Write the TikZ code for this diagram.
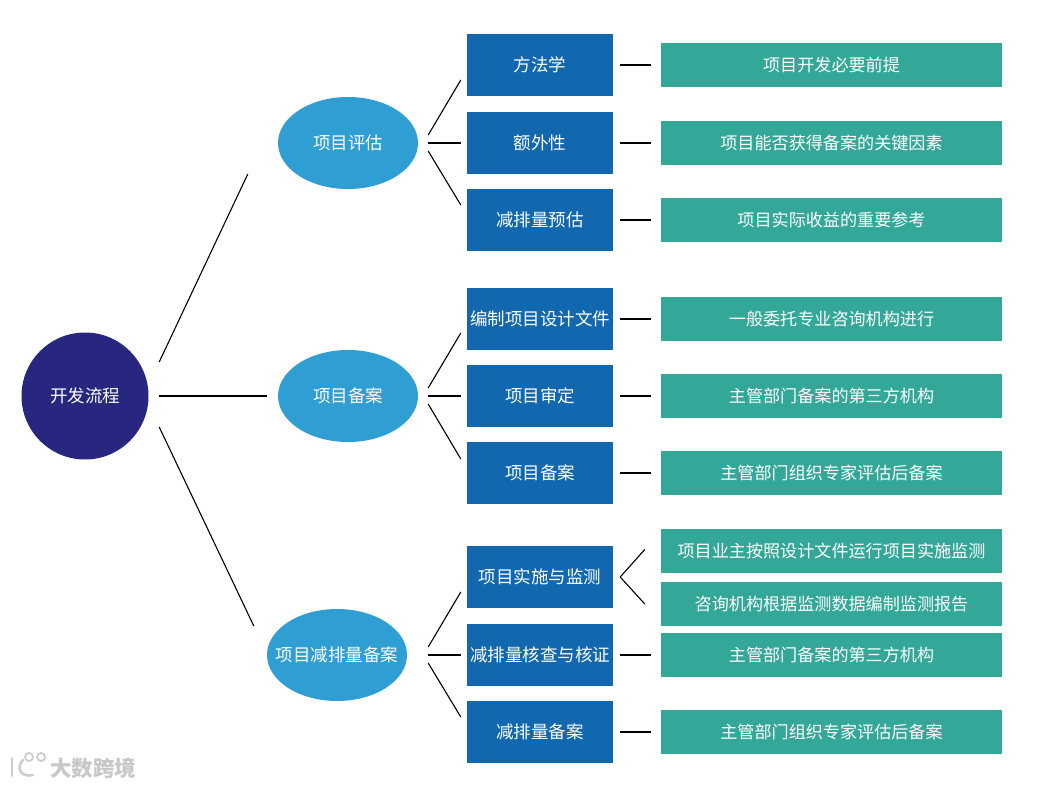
\documentclass[tikz,border=0pt]{standalone}
\usepackage{fontspec}
\setmainfont{Noto Sans CJK SC}
\usepackage{xcolor}
\usetikzlibrary{shapes.geometric, positioning, calc}
\definecolor{rootblue}{HTML}{27277F}
\definecolor{ovalblue}{HTML}{2F9FD3}
\definecolor{stepblue}{HTML}{1268AE}
\definecolor{noteteal}{HTML}{33A898}

\begin{document}
\begin{tikzpicture}[x=1pt, y=-1pt, font=\fontsize{17.5}{21}\selectfont, text=white]
    \tikzset{
        rootnode/.style={circle, fill=rootblue, minimum size=127pt, inner sep=0pt},
        oval/.style={ellipse, fill=ovalblue, minimum width=140pt, minimum height=92pt, inner sep=-15pt},
        stepbox/.style={rectangle, fill=stepblue, minimum width=146pt, minimum height=62pt, inner sep=0pt},
        notebox/.style={rectangle, fill=noteteal, minimum width=341pt, minimum height=44pt, inner sep=0pt, font=\fontsize{17.1}{21}\selectfont},
        link/.style={draw=black, line width=1.1pt}
    }
    \useasboundingbox (0,0) rectangle (1045,787);

    % root and the three stages
    \node[rootnode] (root) at (85,396) {开发流程};
    \node[oval] (assess) at (348,143) {项目评估};
    \node[oval] (record) at (348,396) {项目备案};
    \node[oval] (reduce) at (337,655) {项目减排量备案};

    % steps
    \node[stepbox] (method) at (540,65) {方法学};
    \node[stepbox] (extra) at (540,143) {额外性};
    \node[stepbox] (estimate) at (540,220) {减排量预估};
    \node[stepbox] (design) at (540,319) {编制项目设计文件};
    \node[stepbox] (review) at (540,396) {项目审定};
    \node[stepbox] (filing) at (540,473) {项目备案};
    \node[stepbox] (monitor) at (540,577) {项目实施与监测};
    \node[stepbox] (verify) at (540,655) {减排量核查与核证};
    \node[stepbox] (rfiling) at (540,732) {减排量备案};

    % notes
    \node[notebox] (premise) at (831.5,65) {项目开发必要前提};
    \node[notebox] (key) at (831.5,143) {项目能否获得备案的关键因素};
    \node[notebox] (income) at (831.5,220) {项目实际收益的重要参考};
    \node[notebox] (entrust) at (831.5,319) {一般委托专业咨询机构进行};
    \node[notebox] (third) at (831.5,396) {主管部门备案的第三方机构};
    \node[notebox] (expert) at (831.5,473) {主管部门组织专家评估后备案};
    \node[notebox] (owner) at (831.5,550.5) {项目业主按照设计文件运行项目实施监测};
    \node[notebox] (report) at (831.5,604) {咨询机构根据监测数据编制监测报告};
    \node[notebox] (rthird) at (831.5,655) {主管部门备案的第三方机构};
    \node[notebox] (rexpert) at (831.5,732) {主管部门组织专家评估后备案};

    % root links
    \draw[link] ($(root.east)+(10.5,-34)$) -- ($(assess.west)+(-30,31)$);
    \draw[link] ($(root.east)+(10.5,0)$) -- ($(record.west)+(-11,0)$);
    \draw[link] ($(root.east)+(10.5,31)$) -- ($(reduce.west)+(-13,-29)$);

    % stage links
    \draw[link] ($(assess.east)+(10,-8)$) -- ($(method.west)+(-6,15)$);
    \draw[link] ($(assess.east)+(10,0)$) -- ($(extra.west)+(-6,0)$);
    \draw[link] ($(assess.east)+(10,8)$) -- ($(estimate.west)+(-6,-15)$);
    \draw[link] ($(record.east)+(10,-8)$) -- ($(design.west)+(-6,14)$);
    \draw[link] ($(record.east)+(10,0)$) -- ($(review.west)+(-6,0)$);
    \draw[link] ($(record.east)+(10,8)$) -- ($(filing.west)+(-6,-14)$);
    \draw[link] ($(reduce.east)+(21,-8)$) -- ($(monitor.west)+(-6,15)$);
    \draw[link] ($(reduce.east)+(21,0)$) -- ($(verify.west)+(-6,0)$);
    \draw[link] ($(reduce.east)+(21,8)$) -- ($(rfiling.west)+(-6,-15)$);

    % step links
    \draw[link] ($(method.east)+(7,0)$) -- ($(premise.west)+(-10,0)$);
    \draw[link] ($(extra.east)+(7,0)$) -- ($(key.west)+(-10,0)$);
    \draw[link] ($(estimate.east)+(7,0)$) -- ($(income.west)+(-10,0)$);
    \draw[link] ($(design.east)+(7,0)$) -- ($(entrust.west)+(-10,0)$);
    \draw[link] ($(review.east)+(7,0)$) -- ($(third.west)+(-10,0)$);
    \draw[link] ($(filing.east)+(7,0)$) -- ($(expert.west)+(-10,0)$);
    \draw[link] ($(monitor.east)+(7,0)$) -- ($(owner.west)+(-16,-1)$);
    \draw[link] ($(monitor.east)+(7,0)$) -- ($(report.west)+(-16,0)$);
    \draw[link] ($(verify.east)+(7,0)$) -- ($(rthird.west)+(-10,0)$);
    \draw[link] ($(rfiling.east)+(7,0)$) -- ($(rexpert.west)+(-10,0)$);

    % watermark
    \node[text=black!22, font=\fontsize{21.5}{24}\selectfont\bfseries] (mark) at (93,768) {大数跨境};
    \draw[black!20, line width=2.6pt, line cap=round] (12,758) -- (12,776);
    \draw[black!20, line width=2.6pt, line cap=round] (23,760) .. controls (16,767) and (20,778) .. (33,775);
    \draw[black!20, line width=1.8pt] (29,757) circle (4pt);
    \draw[black!20, line width=1.8pt] (41,757) circle (4pt);
\end{tikzpicture}
\end{document}
